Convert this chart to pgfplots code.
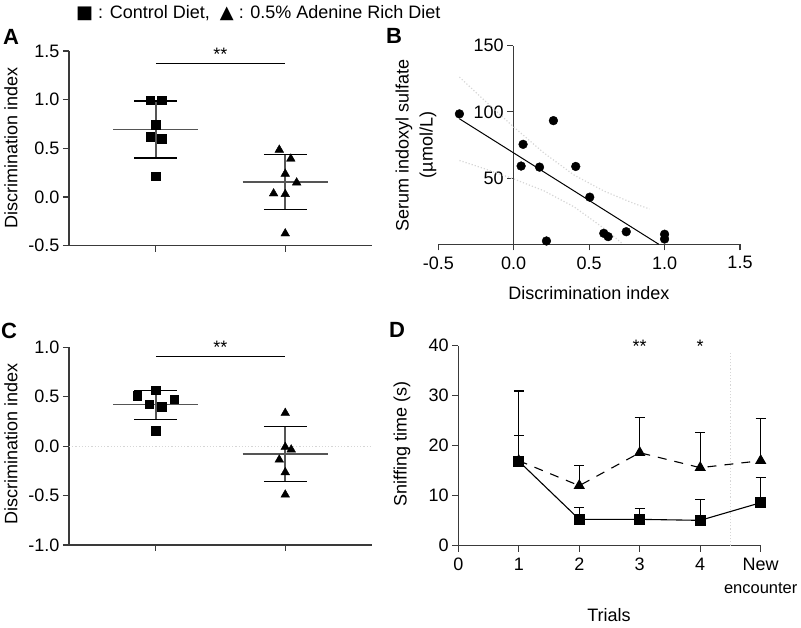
\documentclass[border=0pt]{standalone}
\usepackage{fontspec}
\setmainfont{Liberation Sans}
\newfontfamily\symfont{DejaVu Sans}
\usepackage{pgfplots}
\pgfplotsset{compat=1.18}
\definecolor{axgray}{HTML}{3A3A3A}
\definecolor{meangray}{HTML}{555555}
\definecolor{bandgray}{HTML}{D6D6D6}
\pgfplotsset{
  base/.style={
    scale only axis,
    anchor=south west,
    axis line style={axgray, line width=1.1pt, -},
    tick style={axgray, line width=1.1pt},
    major tick length=6pt,
    tick align=outside,
    clip=false,
    /pgf/number format/assume math mode=true,
    every tick label/.append style={font=\fontsize{18}{23.5}\selectfont},
    yticklabel style={xshift=2.5pt},
  },
  onedec/.style={/pgf/number format/.cd, fixed, fixed zerofill, precision=1},
}
\begin{document}
\fontsize{18}{21}\selectfont
\begin{tikzpicture}[x=1pt,y=1pt, every node/.style={font=\fontsize{18}{21}\selectfont}]
\useasboundingbox (0,0) rectangle (801,627);

% ---------------- Panel A ----------------
\begin{axis}[base, at={(69pt,381.3pt)}, width=303pt, height=194.7pt,
  xmin=0.33, xmax=2.67, ymin=-0.5, ymax=1.5,
  axis x line*=bottom, axis y line*=left,
  xtick={1,2}, xticklabels={},
  ytick={-0.5,0,0.5,1,1.5}, yticklabel style={onedec}]
  \addplot[meangray, line width=1.5pt] coordinates {(0.67,0.696)(1.33,0.696)};
  \addplot[meangray, line width=1.5pt] coordinates {(1,0.40)(1,0.987)};
  \addplot[black, line width=1.2pt] coordinates {(0.835,0.987)(1.165,0.987)};
  \addplot[black, line width=1.2pt] coordinates {(0.835,0.40)(1.165,0.40)};
  \addplot[meangray, line width=1.5pt] coordinates {(1.67,0.154)(2.33,0.154)};
  \addplot[meangray, line width=1.5pt] coordinates {(2,-0.13)(2,0.436)};
  \addplot[black, line width=1.2pt] coordinates {(1.835,0.436)(2.165,0.436)};
  \addplot[black, line width=1.2pt] coordinates {(1.835,-0.13)(2.165,-0.13)};
  \addplot[only marks, mark=square*, mark size=4.3pt, black]
    coordinates {(0.956,0.994)(1.044,0.994)(1,0.744)(0.956,0.617)(1.044,0.596)(1,0.213)};
  \addplot[only marks, mark=triangle*, mark size=5pt, black]
    coordinates {(1.954,0.485)(2.043,0.393)(2,0.238)(2.088,0.148)(1.91,0.036)(2,0.029)(2,-0.375)};
  \addplot[black, line width=1.1pt] coordinates {(1,1.37)(2,1.37)};
  \node[anchor=base, inner sep=0pt] at (axis cs:1.5,1.40) {**};
\end{axis}

% ---------------- Panel B ----------------
\begin{axis}[base, at={(513.3pt,382.7pt)}, width=226.3pt, height=198.6pt,
  xmin=0, xmax=1.5, ymin=0, ymax=150,
  axis x line=none, axis y line*=left,
  ytick={50,100,150}]
  \addplot[draw=none] coordinates {(0,0)};
\end{axis}
\begin{axis}[base, at={(438.3pt,382.7pt)}, width=301.7pt, height=198.6pt,
  xmin=-0.5, xmax=1.5, ymin=0, ymax=150,
  axis x line*=bottom, axis y line=none,
  xtick={-0.5,0,0.5,1,1.5}, xticklabel style={onedec}]
  \addplot[bandgray, dotted, line width=1.2pt] coordinates
    {(-0.36,126.3)(-0.2,109.3)(0,88.6)(0.2,69.0)(0.4,52.3)(0.6,40.1)(0.8,30.7)(0.9,26.7)};
  \addplot[bandgray, dotted, line width=1.2pt] coordinates
    {(-0.36,63.3)(-0.2,57.3)(0,49.4)(0.2,40.4)(0.4,28.3)(0.6,11.9)(0.72,0.5)};
  \addplot[black, line width=1pt] coordinates {(-0.36,94.8)(0.962,0)};
  \addplot[only marks, mark=*, mark size=4.4pt, black] coordinates {
    (-0.36,98.5)(0.263,93.4)(0.062,75.5)(0.049,59.1)(0.171,58.3)(0.411,58.8)
    (0.217,2.5)(0.504,35.6)(0.597,8.3)(0.626,5.8)(0.746,9.5)(1.0,7.6)(1.0,4.0)};
\end{axis}

% ---------------- Panel C ----------------
\begin{axis}[base, at={(69pt,82pt)}, width=303pt, height=197.7pt,
  xmin=0.33, xmax=2.67, ymin=-1, ymax=1,
  axis x line*=bottom, axis y line*=left,
  xtick={1,2}, xticklabels={},
  ytick={-1,-0.5,0,0.5,1}, yticklabel style={onedec}]
  \addplot[bandgray, dotted, line width=1.2pt] coordinates {(0.33,0)(2.67,0)};
  \addplot[meangray, line width=1.5pt] coordinates {(0.67,0.422)(1.33,0.422)};
  \addplot[meangray, line width=1.5pt] coordinates {(1,0.273)(1,0.567)};
  \addplot[black, line width=1.2pt] coordinates {(0.835,0.567)(1.165,0.567)};
  \addplot[black, line width=1.2pt] coordinates {(0.835,0.273)(1.165,0.273)};
  \addplot[meangray, line width=1.5pt] coordinates {(1.67,-0.078)(2.33,-0.078)};
  \addplot[meangray, line width=1.5pt] coordinates {(2,-0.354)(2,0.202)};
  \addplot[black, line width=1.2pt] coordinates {(1.835,0.202)(2.165,0.202)};
  \addplot[black, line width=1.2pt] coordinates {(1.835,-0.354)(2.165,-0.354)};
  \addplot[only marks, mark=square*, mark size=4.3pt, black]
    coordinates {(0.857,0.509)(1,0.567)(1.143,0.475)(0.95,0.425)(1.046,0.398)(1,0.155)};
  \addplot[only marks, mark=triangle*, mark size=5pt, black]
    coordinates {(2,0.335)(2,-0.009)(2.046,-0.035)(1.954,-0.137)(2,-0.265)(2,-0.491)};
  \addplot[black, line width=1.1pt] coordinates {(1,0.903)(2,0.903)};
  \node[anchor=base, inner sep=0pt] at (axis cs:1.5,0.94) {**};
\end{axis}

% ---------------- Panel D ----------------
\begin{axis}[base, at={(458.3pt,81.3pt)}, width=302.4pt, height=200pt,
  xmin=0, xmax=5, ymin=0, ymax=40,
  axis x line*=bottom, axis y line*=left,
  xtick={0,1,2,3,4,5},
  xticklabels={0,1,2,3,4,{New\\{\fontsize{16.5}{20}\selectfont encounter}}},
  xticklabel style={align=center},
  ytick={0,10,20,30,40}]
  \addplot[bandgray, dotted, line width=1.2pt] coordinates {(4.5,0)(4.5,38.5)};
  \addplot[black, line width=1.1pt, dash pattern=on 9pt off 8pt,
    mark=triangle*, mark size=5.5pt, mark options={solid},
    error bars/.cd, y dir=plus, y explicit,
    error bar style={black, line width=1.1pt, solid},
    error mark options={rotate=90, mark size=5pt, black, line width=1.1pt, solid}]
    coordinates {(1,17.0) +- (0,13.93) (2,12.0) +- (0,4.0) (3,18.6) +- (0,7.0)
                 (4,15.6) +- (0,7.0) (5,17.0) +- (0,8.47)};
  \addplot[black, line width=1.1pt,
    mark=square*, mark size=5pt,
    error bars/.cd, y dir=plus, y explicit,
    error bar style={black, line width=1.1pt},
    error mark options={rotate=90, mark size=5pt, black, line width=1.1pt}]
    coordinates {(1,16.9) +- (0,5.17) (2,5.27) +- (0,2.4) (3,5.27) +- (0,2.2)
                 (4,5.07) +- (0,4.2) (5,8.6) +- (0,5.07)};
  \node[anchor=base, inner sep=0pt] at (axis cs:3,38.6) {**};
  \node[anchor=base, inner sep=0pt] at (axis cs:4,38.6) {*};
\end{axis}

% ---------------- Labels ----------------
\node[rotate=90] at (11,479) {Discrimination index};
\node[rotate=90] at (11,183) {Discrimination index};
\node[rotate=90] at (402,183) {Sniffing time (s)};
\node[rotate=90, align=center, font=\fontsize{18}{24}\selectfont] at (416,482)
  {Serum indoxyl sulfate\\(µmol/L)};
\node at (589,334) {Discrimination index};
\node at (609,12) {Trials};

\node[anchor=base west, inner sep=0pt, font=\fontsize{22}{24}\selectfont\bfseries] at (3,582) {A};
\node[anchor=base west, inner sep=0pt, font=\fontsize{22}{24}\selectfont\bfseries] at (386,583.7) {B};
\node[anchor=base west, inner sep=0pt, font=\fontsize{22}{24}\selectfont\bfseries] at (1,288.7) {C};
\node[anchor=base west, inner sep=0pt, font=\fontsize{22}{24}\selectfont\bfseries] at (389,289) {D};

\node[anchor=base west, inner sep=0pt, font=\fontsize{18}{21}\selectfont] at (76,608.7)
  {{\symfont\fontsize{18}{21}\selectfont ■} : Control Diet,\ \ {\symfont\fontsize{18}{21}\selectfont ▲} : 0.5\% Adenine Rich Diet};
\end{tikzpicture}
\end{document}
